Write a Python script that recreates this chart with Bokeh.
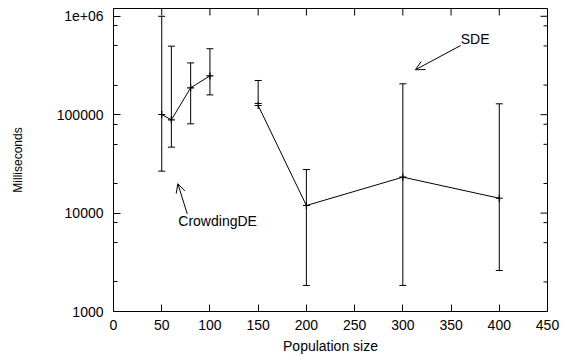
import math
from bokeh.plotting import figure
from bokeh.models import (ColumnDataSource, Whisker, TeeHead, FixedTicker,
                          Range1d, Arrow, OpenHead, Label)
from bokeh.embed import file_html
from bokeh.resources import INLINE

# ---- data ----
crowd_x = [50, 60, 80, 100]
crowd_y = [100400, 88700, 187500, 248000]
crowd_low = [26700, 46800, 80700, 159000]
crowd_high = [1000000, 497000, 336000, 468000]

sde_x = [150, 200, 300, 400]
sde_y = [124000, 11940, 23200, 14160]
sde_low = [130000, 1840, 1840, 2610]
sde_high = [222600, 27700, 206000, 129000]

x_ticks = [0, 50, 100, 150, 200, 250, 300, 350, 400, 450]
y_ticks = [1000, 10000, 100000, 1000000]
y_tick_labels = ["1000", "10000", "100000", "1e+06"]
y_minor = [m * d for d in [1000, 10000, 100000] for m in (2, 5, 8)]

# annotations (data coordinates)
sde_label = ("SDE", 360, 594000)
sde_arrow = (360, 505000, 313, 286000)
crowd_label = ("CrowdingDE", 67.2, 8220)
crowd_arrow = (76.5, 9800, 66.7, 19900)

FONT = "Liberation Sans"
W, H = 570, 356
BL, BR, BT, BB = 113, 23, 8, 45
X0, X1 = 0, 450
Y0, Y1 = 1000, 1.2e6
MAJ, MIN = 7, 4

p = figure(width=W, height=H, output_backend="svg", toolbar_location=None,
           y_axis_type="log", x_range=Range1d(X0, X1), y_range=Range1d(Y0, Y1),
           min_border_left=BL, min_border_right=BR, min_border_top=BT,
           min_border_bottom=BB)
p.background_fill_color = "white"
p.border_fill_color = "white"
p.outline_line_color = "black"
p.outline_line_width = 1
p.xgrid.visible = False
p.ygrid.visible = False

def style_axis(ax):
    ax.major_tick_in = MAJ
    ax.major_tick_out = 0
    ax.minor_tick_in = MIN
    ax.minor_tick_out = 0
    ax.axis_line_color = "black"
    ax.major_tick_line_color = "black"
    ax.minor_tick_line_color = "black"
    ax.major_label_text_font = FONT
    ax.major_label_text_color = "black"
    ax.axis_label_text_font = FONT
    ax.axis_label_text_font_style = "normal"
    ax.axis_label_text_color = "black"

xa = p.xaxis[0]
xa.ticker = FixedTicker(ticks=x_ticks)
style_axis(xa)
xa.minor_tick_in = 0
xa.major_label_text_font_size = "14px"
xa.major_label_standoff = 8
xa.axis_label = "Population size"
xa.axis_label_text_font_size = "14px"
xa.axis_label_standoff = 5

ya = p.yaxis[0]
ya.ticker = FixedTicker(ticks=y_ticks, minor_ticks=y_minor)
style_axis(ya)
ya.major_label_text_font_size = "14px"
ya.major_label_standoff = 10
ya.major_label_overrides = dict(zip(y_ticks, y_tick_labels))
ya.axis_label = "Milliseconds"
ya.axis_label_text_font_size = "12px"
ya.axis_label_standoff = 29

# mirrored inward ticks on top and right edges (gnuplot style)
fw = W - BL - BR
fh = H - BT - BB
px_per_x = fw / (X1 - X0)
px_per_dec = fh / math.log10(Y1 / Y0)
top_x = x_ticks
p.segment(x0=top_x, y0=[Y1] * len(top_x), x1=top_x,
          y1=[Y1 / 10 ** (MAJ / px_per_dec)] * len(top_x), line_color="black", line_width=1)
ry = y_ticks + y_minor
rlen = [MAJ] * len(y_ticks) + [MIN] * len(y_minor)
p.segment(x0=[X1] * len(ry), y0=ry, x1=[X1 - l / px_per_x for l in rlen], y1=ry,
          line_color="black", line_width=1)

# ---- series ----
for xs, ys, lo, hi in [(crowd_x, crowd_y, crowd_low, crowd_high),
                       (sde_x, sde_y, sde_low, sde_high)]:
    src = ColumnDataSource(dict(x=xs, y=ys, lower=lo, upper=hi))
    p.add_layout(Whisker(source=src, base="x", lower="lower", upper="upper",
                         line_color="black", line_width=1,
                         upper_head=TeeHead(size=7, line_color="black", line_width=1),
                         lower_head=TeeHead(size=7, line_color="black", line_width=1)))
    p.line("x", "y", source=src, line_color="black", line_width=1)
    p.scatter("x", "y", source=src, marker="cross", size=7,
              line_color="black", line_width=1.2)

# ---- annotations ----
for (txt, lx, ly), (x0, y0, x1, y1) in [(sde_label, sde_arrow), (crowd_label, crowd_arrow)]:
    p.add_layout(Arrow(x_start=x0, y_start=y0, x_end=x1, y_end=y1,
                       line_color="black", line_width=1,
                       end=OpenHead(size=9, line_color="black", line_width=1)))
    p.add_layout(Label(x=lx, y=ly, text=txt, text_align="left", text_baseline="middle",
                       text_font=FONT, text_font_size="14px", text_color="black"))

open("out.html", "w").write(file_html(p, INLINE))
